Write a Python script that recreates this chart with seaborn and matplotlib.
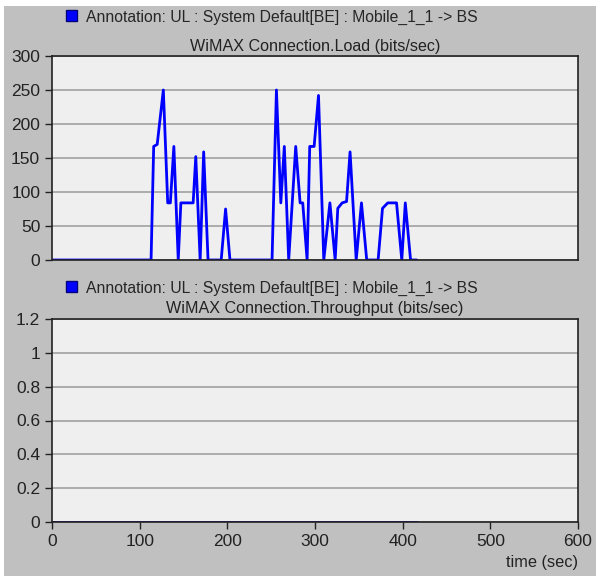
import matplotlib
matplotlib.use("Agg")
import matplotlib.pyplot as plt
import seaborn as sns
import pandas as pd
from matplotlib.patches import Patch, Rectangle

# Data
load_time = [0, 113, 116, 120, 127, 132, 135, 139, 144, 147, 161, 164, 169, 173, 178,
             193, 198, 203, 251, 256, 261, 265, 270, 278, 283, 286, 291, 294, 299,
             304, 310, 317, 323, 326, 331, 336, 340, 347, 353, 359, 372, 377, 383,
             393, 399, 403, 409, 416]
load = [0, 0, 167, 170, 250, 84, 84, 167, 0, 84, 84, 152, 0, 159, 0,
        0, 75, 0, 0, 250, 84, 167, 0, 167, 84, 84, 0, 167, 167,
        242, 0, 84, 0, 76, 84, 86, 159, 0, 84, 0, 0, 76, 84,
        84, 0, 84, 0, 0]
thr_time = [0, 416]
throughput = [0, 0]

legend_label = "Annotation: UL : System Default[BE] : Mobile_1_1 -> BS"
x_ticks = [0, 100, 200, 300, 400, 500, 600]
load_ticks = [0, 50, 100, 150, 200, 250, 300]
thr_ticks = [0, 0.2, 0.4, 0.6, 0.8, 1, 1.2]
thr_labels = ["0", "0.2", "0.4", "0.6", "0.8", "1", "1.2"]

df_load = pd.DataFrame({"time": load_time, "load": load})
df_thr = pd.DataFrame({"time": thr_time, "thr": throughput})

sns.set_style("ticks", {"axes.facecolor": "#efefef", "axes.edgecolor": "#222222"})
plt.rcParams["font.family"] = ["Liberation Sans", "DejaVu Sans"]
plt.rcParams["font.size"] = 11

fig = plt.figure(figsize=(5.96, 5.76), dpi=100)
fig.patch.set_facecolor("white")
# grey panel behind everything (white margin at top/left)
fig.patches.append(Rectangle((4 / 596, 0), 1, 1 - 6 / 576, transform=fig.transFigure,
                             facecolor="#c0c0c0", edgecolor="none", zorder=-10))

ax1 = fig.add_axes([52 / 596, 1 - 260 / 576, 526 / 596, 204 / 576])
ax2 = fig.add_axes([52 / 596, 1 - 522 / 576, 526 / 596, 203 / 576])

sns.lineplot(data=df_load, x="time", y="load", ax=ax1, color="#0000ff", linewidth=2.0)
sns.lineplot(data=df_thr, x="time", y="thr", ax=ax2, color="#0000cc", linewidth=2.0)

for ax in (ax1, ax2):
    ax.set_xlim(0, 600)
    ax.set_xlabel("")
    ax.set_ylabel("")
    ax.grid(axis="y", color="#a0a0a0", linewidth=1.2)
    ax.set_axisbelow(True)
    for s in ax.spines.values():
        s.set_visible(True)
        s.set_linewidth(1.2)
    ax.tick_params(length=5, width=1, color="#222222", labelcolor="#222222", labelsize=12.5)

ax1.set_ylim(0, 300)
ax1.set_yticks(load_ticks)
ax1.set_xticks([])
ax1.set_title("WiMAX Connection.Load (bits/sec)", fontsize=11.6, color="#222222", pad=3.5)

ax2.set_ylim(0, 1.2)
ax2.set_yticks(thr_ticks)
ax2.set_yticklabels(thr_labels)
ax2.set_xticks(x_ticks)
ax2.set_title("WiMAX Connection.Throughput (bits/sec)", fontsize=11.6, color="#222222", pad=4)
ax2.text(1.0, -0.2, "time (sec)", transform=ax2.transAxes, ha="right", va="center",
         fontsize=11.8, color="#222222")

for ax, ypix in ((ax1, 17), (ax2, 288)):
    ax.legend(handles=[Patch(facecolor="#0000ff", edgecolor="#000080")], labels=[legend_label],
              loc="center left", bbox_to_anchor=(66 / 596, 1 - ypix / 576),
              bbox_transform=fig.transFigure, frameon=False, fontsize=11.3,
              handlelength=0.7, handleheight=0.7, handletextpad=0.6,
              borderpad=0, borderaxespad=0)

fig.savefig("out.png", dpi=100, facecolor=fig.get_facecolor())
